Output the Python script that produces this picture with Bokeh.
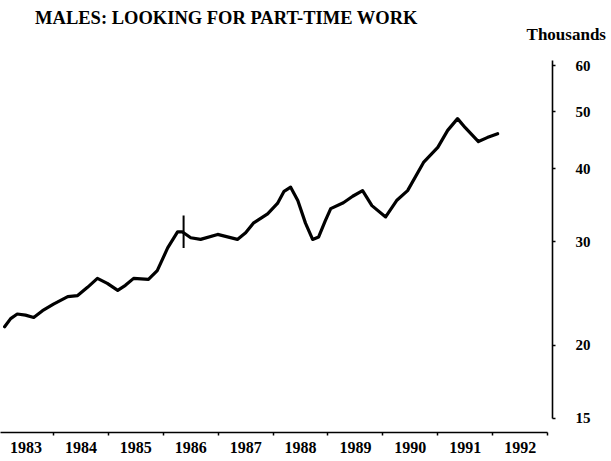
from bokeh.plotting import figure
from bokeh.models import Range1d, LogAxis, LinearAxis, FixedTicker, Label, CustomJSTickFormatter
from bokeh.embed import file_html
from bokeh.resources import INLINE

# Data (time in years, value in thousands)
years = [1983.11, 1983.22, 1983.34, 1983.49, 1983.64, 1983.80, 1984.00, 1984.26, 1984.44,
         1984.62, 1984.80, 1984.98, 1985.17, 1985.31, 1985.46, 1985.73, 1985.89, 1986.08,
         1986.26, 1986.35, 1986.50, 1986.68, 1986.99, 1987.17, 1987.35, 1987.50, 1987.64,
         1987.90, 1988.08, 1988.20, 1988.32, 1988.45, 1988.59, 1988.72, 1988.83, 1988.95,
         1989.05, 1989.28, 1989.45, 1989.63, 1989.80, 1990.05, 1990.25, 1990.45, 1990.74,
         1991.00, 1991.18, 1991.36, 1991.50, 1991.74, 1991.90, 1992.09]
values = [21.5, 22.2, 22.6, 22.5, 22.3, 22.9, 23.5, 24.2, 24.3,
          25.1, 26.0, 25.5, 24.8, 25.3, 26.0, 25.9, 26.8, 29.3,
          31.2, 31.2, 30.5, 30.3, 30.9, 30.6, 30.3, 31.1, 32.3,
          33.5, 34.9, 36.6, 37.2, 35.3, 32.3, 30.3, 30.6, 32.6,
          34.2, 35.0, 35.9, 36.7, 34.6, 33.1, 35.3, 36.7, 41.0,
          43.5, 46.5, 48.7, 47.0, 44.5, 45.2, 45.9]

# series break marker
break_year = [1986.37]
break_low = [29.3]
break_high = [33.3]

year_labels = [1983, 1984, 1985, 1986, 1987, 1988, 1989, 1990, 1991, 1992]
y_ticks = [15, 20, 30, 40, 50, 60]

title_text = "MALES: LOOKING FOR PART-TIME WORK"
unit_text = "Thousands"

FONT = "Liberation Serif"
AXIS_X = 1993.089

p = figure(width=611, height=461, output_backend="svg", toolbar_location=None,
           x_axis_location=None, y_axis_location=None, y_axis_type="log",
           x_range=Range1d(1983.035, 1994.164), y_range=Range1d(14.19, 77.46),
           min_border_left=0, min_border_top=0, min_border_right=0, min_border_bottom=29)
p.outline_line_color = None
p.xgrid.visible = False
p.ygrid.visible = False
p.background_fill_color = "white"
p.border_fill_color = "white"

p.line(years, values, line_color="black", line_width=3.2, line_join="round", line_cap="round")
p.segment(x0=break_year, y0=break_low, x1=break_year, y1=break_high, line_color="black", line_width=2)

# bottom axis: year boundaries as minor ticks, labels centred in each year
mids = [y + 0.5 for y in year_labels]
bounds_ticks = [y for y in year_labels] + [year_labels[-1] + 1]
xaxis = LinearAxis(ticker=FixedTicker(ticks=mids, minor_ticks=bounds_ticks),
                   formatter=CustomJSTickFormatter(code="return String(Math.floor(tick));"),
                   bounds=(year_labels[0], year_labels[-1] + 1))
xaxis.axis_line_color = "black"
xaxis.axis_line_width = 1.6
xaxis.major_tick_in = 0
xaxis.major_tick_out = 0
xaxis.minor_tick_in = 0
xaxis.minor_tick_out = 3
xaxis.minor_tick_line_width = 1.5
xaxis.minor_tick_line_color = "black"
xaxis.major_label_standoff = 6
xaxis.major_label_text_font = FONT
xaxis.major_label_text_font_style = "bold"
xaxis.major_label_text_font_size = "16px"
xaxis.major_label_text_color = "black"
p.add_layout(xaxis, "below")

# right log axis, drawn at a fixed x position inside the plot
yaxis = LogAxis(ticker=FixedTicker(ticks=y_ticks, minor_ticks=[]), bounds=(15, 61.3),
                fixed_location=AXIS_X)
yaxis.axis_line_color = "black"
yaxis.axis_line_width = 1.6
yaxis.major_tick_in = 0
yaxis.major_tick_out = 3
yaxis.major_tick_line_width = 1.5
yaxis.minor_tick_out = 0
yaxis.minor_tick_in = 0
yaxis.major_label_standoff = 20
yaxis.major_label_text_font = FONT
yaxis.major_label_text_font_style = "bold"
yaxis.major_label_text_font_size = "15px"
yaxis.major_label_text_color = "black"
p.add_layout(yaxis, "right")

p.add_layout(Label(x=1987.151, y=72.2, text=title_text, text_font=FONT, text_font_style="bold",
                   text_font_size="18.5px", text_align="center", text_baseline="middle",
                   text_color="black"))
p.add_layout(Label(x=1993.34, y=67.8, text=unit_text, text_font=FONT, text_font_style="bold",
                   text_font_size="17px", text_align="center", text_baseline="middle",
                   text_color="black"))

open("out.html", "w").write(file_html(p, INLINE))
